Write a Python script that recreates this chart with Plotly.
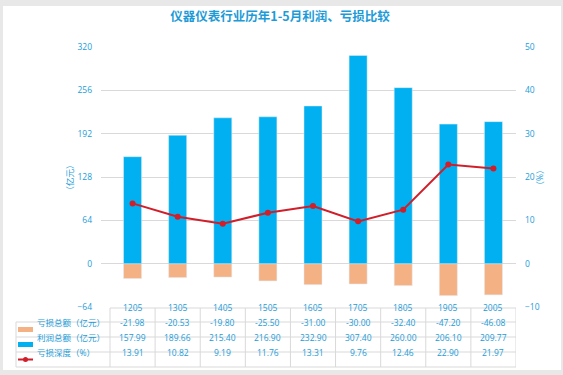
import plotly.graph_objects as go

categories = ["1205", "1305", "1405", "1505", "1605", "1705", "1805", "1905", "2005"]
loss_total = [-21.98, -20.53, -19.80, -25.50, -31.00, -30.00, -32.40, -47.20, -46.08]
profit_total = [157.99, 189.66, 215.40, 216.90, 232.90, 307.40, 260.00, 206.10, 209.77]
loss_depth = [13.91, 10.82, 9.19, 11.76, 13.31, 9.76, 12.46, 22.90, 21.97]
series_names = ["亏损总额（亿元）", "利润总额（亿元）", "亏损深度（%）"]
title_text = "仪器仪表行业历年1-5月利润、亏损比较"
left_ticks = [-64, 0, 64, 128, 192, 256, 320]
right_ticks = [-10, 0, 10, 20, 30, 40, 50]

W, H = 563, 375
L, R, T, B = 101, 516, 47, 307
TXT = "#1B9CD9"
GRID = "#D9D9D9"
FONT = "Open Sans, Noto Sans CJK SC, sans-serif"
ORANGE = "#F4B183"
BLUE = "#00B0F0"
RED = "#D01F2A"


def xp(px):
    return (px - L) / (R - L)


def yp(py):
    return (B - py) / (B - T)


n = len(categories)
xidx = list(range(n))
fig = go.Figure()
fig.add_trace(go.Bar(x=xidx, y=loss_total, name=series_names[0], marker_color=ORANGE,
                     width=0.4, yaxis="y"))
fig.add_trace(go.Bar(x=xidx, y=profit_total, name=series_names[1], marker_color=BLUE,
                     width=0.4, yaxis="y"))
fig.add_trace(go.Scatter(x=xidx, y=loss_depth, name=series_names[2], mode="lines+markers",
                         line=dict(color=RED, width=2), marker=dict(color=RED, size=6),
                         yaxis="y2"))

shapes = []
annotations = []
shapes.append(dict(type="rect", xref="paper", yref="paper", x0=xp(3), x1=xp(561),
                   y0=yp(370), y1=yp(6), fillcolor="white", line_width=0, layer="below"))

rows_y = [308, 322, 337, 352, 367]
left_px = 16
lc = dict(color=GRID, width=1)
shapes.append(dict(type="line", xref="x", yref="paper", x0=-0.5, x1=n - 0.5,
                   y0=yp(rows_y[0]), y1=yp(rows_y[0]), line=lc))
for ry in rows_y[1:]:
    shapes.append(dict(type="line", xref="paper", yref="paper", x0=xp(left_px), x1=1,
                       y0=yp(ry), y1=yp(ry), line=lc))
for k in range(n + 1):
    shapes.append(dict(type="line", xref="x", yref="paper", x0=k - 0.5, x1=k - 0.5,
                       y0=yp(rows_y[0]), y1=yp(rows_y[-1]), line=lc))
shapes.append(dict(type="line", xref="paper", yref="paper", x0=xp(left_px), x1=xp(left_px),
                   y0=yp(rows_y[1]), y1=yp(rows_y[-1]), line=lc))

tf = dict(family=FONT, size=8.5, color=TXT)
row_centers = [(rows_y[i] + rows_y[i + 1]) / 2 for i in range(4)]
for k, c in enumerate(categories):
    annotations.append(dict(x=k, y=yp(row_centers[0]), xref="x", yref="paper", text=c,
                            showarrow=False, font=tf))
    for r, vals in enumerate([loss_total, profit_total, loss_depth]):
        annotations.append(dict(x=k, y=yp(row_centers[r + 1]), xref="x", yref="paper",
                                text=f"{vals[k]:.2f}", showarrow=False, font=tf))

for r, name in enumerate(series_names):
    cy = row_centers[r + 1]
    if r < 2:
        shapes.append(dict(type="rect", xref="paper", yref="paper", x0=xp(18), x1=xp(33),
                           y0=yp(cy + 2.5), y1=yp(cy - 2.5),
                           fillcolor=[ORANGE, BLUE][r], line_width=0))
    else:
        shapes.append(dict(type="line", xref="paper", yref="paper", x0=xp(18), x1=xp(33),
                           y0=yp(cy), y1=yp(cy), line=dict(color=RED, width=2)))
        shapes.append(dict(type="circle", xref="paper", yref="paper", x0=xp(23), x1=xp(28),
                           y0=yp(cy + 2.5), y1=yp(cy - 2.5), fillcolor=RED, line_width=0))
    annotations.append(dict(x=xp(35), y=yp(cy), xref="paper", yref="paper", text=name,
                            xanchor="left", showarrow=False, font=tf))

annotations.append(dict(x=xp(61), y=yp(178), xref="paper", yref="paper", text="（亿元）",
                        textangle=-90, showarrow=False, font=tf))
annotations.append(dict(x=xp(546), y=yp(178), xref="paper", yref="paper", text="（%）",
                        textangle=-90, showarrow=False, font=tf))

fig.update_layout(
    width=W, height=H,
    margin=dict(l=L, r=W - R, t=T, b=H - B, pad=0),
    paper_bgcolor="#E8E8E8", plot_bgcolor="rgba(0,0,0,0)",
    barmode="relative", bargap=0.5, showlegend=False,
    title=dict(text=title_text, x=280 / W, xref="container", xanchor="center",
               y=1 - 17 / H, yref="container", yanchor="middle",
               font=dict(family="Noto Sans CJK SC", size=12.5, color="#1E9BD7", weight="bold")),
    font=dict(family=FONT, color=TXT, size=8),
    xaxis=dict(range=[-0.5 - (110 - L) / ((R - L) / 9.2), n - 0.5], showticklabels=False,
               showgrid=False, zeroline=False, showline=False, ticks=""),
    yaxis=dict(range=[-64, 320], tickvals=left_ticks, showgrid=True, gridcolor=GRID,
               gridwidth=1, zeroline=False, showline=False, ticks="",
               ticklabelstandoff=8, tickfont=dict(family=FONT, size=8.5, color=TXT)),
    yaxis2=dict(range=[-10, 50], tickvals=right_ticks, overlaying="y", side="right",
                showgrid=False, zeroline=False, showline=False, ticks="",
                ticklabelstandoff=8, tickfont=dict(family=FONT, size=8.5, color=TXT)),
    shapes=shapes, annotations=annotations,
)

fig.write_html("out.html", config={"displayModeBar": False},
               post_script="document.body.style.margin='0';")
